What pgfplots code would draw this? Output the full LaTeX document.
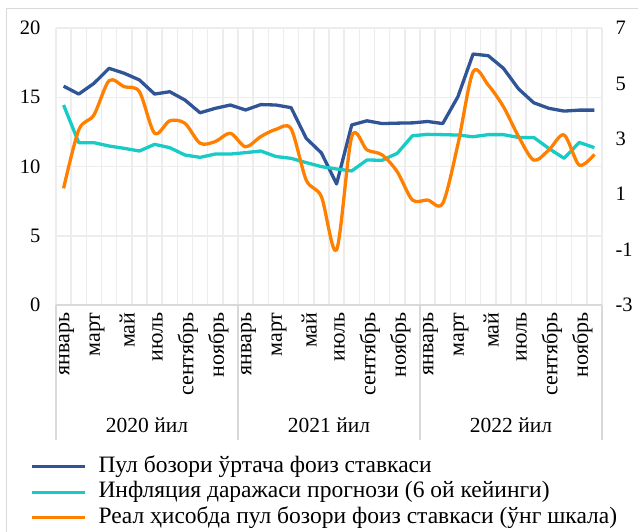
\documentclass[border=0pt]{standalone}
\usepackage{pgfplots}
\pgfplotsset{compat=1.18}
\usepackage{pgfplotstable}
\usepackage{fontspec}
\setmainfont{Liberation Serif}
\definecolor{cblue}{HTML}{2F5597}
\definecolor{ccyan}{HTML}{18CBC6}
\definecolor{corange}{HTML}{FF8000}
\definecolor{cgrid}{HTML}{EDEDED}
\definecolor{cframe}{HTML}{D9D9D9}

\pgfplotstableread{
i rate infl real
0 15.80 14.44 1.21
1 15.23 11.72 3.32
2 16.00 11.72 3.86
3 17.09 11.48 5.10
4 16.73 11.31 4.88
5 16.25 11.12 4.70
6 15.23 11.60 3.20
7 15.40 11.36 3.65
8 14.80 10.83 3.56
9 13.88 10.66 2.84
10 14.20 10.90 2.90
11 14.44 10.90 3.20
12 14.08 11.00 2.71
13 14.47 11.12 3.08
14 14.44 10.72 3.34
15 14.25 10.59 3.36
16 12.03 10.28 1.51
17 10.98 9.99 0.91
18 8.74 9.82 -1.01
19 13.00 9.68 3.08
20 13.30 10.47 2.60
21 13.10 10.45 2.42
22 13.13 10.95 1.81
23 13.15 12.22 0.79
24 13.25 12.32 0.79
25 13.10 12.30 0.67
26 15.04 12.27 2.80
27 18.12 12.15 5.42
28 18.00 12.30 4.94
29 17.09 12.30 4.16
30 15.60 12.10 3.08
31 14.60 12.10 2.23
32 14.20 11.30 2.60
33 14.00 10.59 3.14
34 14.07 11.74 2.05
35 14.07 11.36 2.44
}\datatable

\begin{document}
\begin{tikzpicture}[x=1pt,y=1pt]
\useasboundingbox (0,0) rectangle (638,531);
\draw[cframe, line width=1pt] (6.5,-5) -- (6.5,522.5) -- (650,522.5);
\begin{axis}[
  at={(56pt,226pt)}, anchor=south west,
  scale only axis, width=546pt, height=277pt,
  xmin=-0.5, xmax=35.5, ymin=0, ymax=20,
  ytick={0,5,10,15,20},
  xtick={0,2,...,34},
  xticklabels={январь,март,май,июль,сентябрь,ноябрь,январь,март,май,июль,сентябрь,ноябрь,январь,март,май,июль,сентябрь,ноябрь},
  minor xtick={-0.5,0.5,...,35.5},
  xminorgrids, ymajorgrids,
  major grid style={draw=cgrid, line width=1.5pt},
  minor grid style={draw=cgrid, line width=1.5pt},
  axis x line*=bottom, axis y line*=left,
  x axis line style={draw=cframe, line width=1.2pt, -},
  y axis line style={draw=none},
  tick style={draw=none},
  xticklabel style={xshift=3pt, rotate=90, anchor=east, font=\fontsize{22}{22}\selectfont},
  yticklabel style={font=\fontsize{20.5}{20}\selectfont},
  xticklabel shift=4pt,
  yticklabel shift=12pt,
  /pgf/number format/assume math mode=true,
  clip=false,
  legend cell align=left,
  legend style={at={(axis description cs:-0.0476,-0.537)}, anchor=north west,
    draw=none, fill=none, inner sep=0pt, column sep=12pt, row sep=0pt,
    nodes={inner xsep=0pt, inner ysep=2.25pt, text height=16pt, text depth=5pt,
      font=\fontsize{23.5}{24}\selectfont}},
  legend image code/.code={\draw[#1] (0pt,0pt) -- (53pt,0pt);},
]
\addplot[cblue, line width=3.3pt, line join=round] table[x=i, y=rate] {\datatable};
\addlegendentry{Пул бозори ўртача фоиз ставкаси}
\addplot[ccyan, line width=3.3pt, line join=round] table[x=i, y=infl] {\datatable};
\addlegendentry{Инфляция даражаси прогнози (6 ой кейинги)}
\addlegendimage{corange, line width=3.3pt}
\addlegendentry{Реал ҳисобда пул бозори фоиз ставкаси (ўнг шкала)}
\foreach \s in {-0.5,11.5,23.5,35.5} {
  \edef\temp{\noexpand\draw[cframe, line width=1.2pt] (axis cs:\s,0) -- (axis cs:\s,-9.75);}
  \temp
}
\node[font=\fontsize{21.5}{22}\selectfont] at (axis cs:5.5,-8.7) {2020 йил};
\node[font=\fontsize{21.5}{22}\selectfont] at (axis cs:17.5,-8.7) {2021 йил};
\node[font=\fontsize{21.5}{22}\selectfont] at (axis cs:29.5,-8.7) {2022 йил};
\end{axis}
\begin{axis}[
  at={(56pt,226pt)}, anchor=south west,
  scale only axis, width=546pt, height=277pt,
  xmin=-0.5, xmax=35.5, ymin=-3, ymax=7,
  ytick={-3,-1,...,7},
  axis x line=none, axis y line*=right,
  y axis line style={draw=none},
  tick style={draw=none},
  yticklabel style={anchor=west, font=\fontsize{20.5}{20}\selectfont},
  yticklabel shift=10pt,
  /pgf/number format/assume math mode=true,
  clip=false,
]
\addplot[corange, line width=3.3pt, smooth, line join=round] table[x=i, y=real] {\datatable};
\end{axis}
\end{tikzpicture}
\end{document}
